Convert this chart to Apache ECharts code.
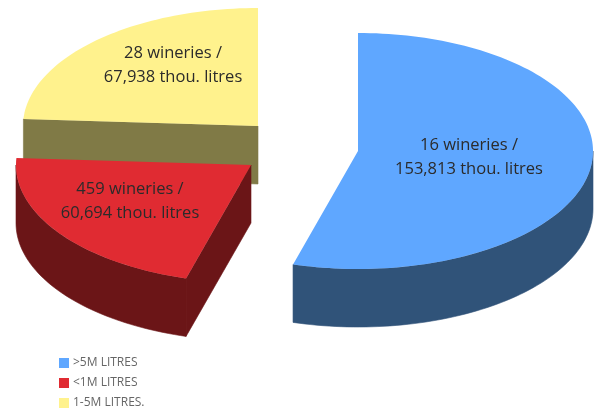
<!DOCTYPE html>
<html>
<head>
<meta charset="utf-8">
<style>
  html, body { margin: 0; padding: 0; background: #fff; }
  #chart { width: 601px; height: 410px; }
</style>
<script src="https://cdn.jsdelivr.net/npm/echarts@6/dist/echarts.min.js"></script>
</head>
<body>
<div id="chart"></div>
<script>
// data
const categories = [">5M LITRES", "<1M LITRES", "1-5M LITRES."];
const litres = [153813, 60694, 67938];
const wineries = [16, 459, 28];

const topColors = ["#5fa7ff", "#e02b32", "#fff28d"];
const sideColors = ["#305379", "#6b1517", "#807a46"];

// where each slice sits once pulled apart, and where its text goes
const apexes = [[358, 151], [251, 165], [258, 126]];
const labelCentres = [[469, 157], [130, 201], [173, 65]];
const radiusX = 235;
const radiusY = 118;
const depth = 58;

const total = litres.reduce((a, b) => a + b, 0);

function fmt(n) {
  return String(n).replace(/\B(?=(\d{3})+$)/g, ",");
}

function rimPoint(apex, deg, down) {
  const r = (deg * Math.PI) / 180;
  return [
    apex[0] + radiusX * Math.sin(r),
    apex[1] - radiusY * Math.cos(r) + (down || 0)
  ];
}

function arcPoints(apex, from, to, down) {
  const pts = [];
  const steps = Math.max(1, Math.ceil((to - from) / 1.5));
  for (let i = 0; i <= steps; i++) {
    pts.push(rimPoint(apex, from + ((to - from) * i) / steps, down));
  }
  return pts;
}

// thin stroke in the same colour closes the seam between wall pieces
function sideStyle(fill) {
  return { fill: fill, stroke: fill, lineWidth: 0.6 };
}

// radial cut face, apex to rim, pushed down by the slice depth
function cutFace(apex, deg, fill) {
  const rim = rimPoint(apex, deg);
  return {
    type: "polygon",
    shape: {
      points: [apex, rim, [rim[0], rim[1] + depth], [apex[0], apex[1] + depth]]
    },
    style: sideStyle(fill)
  };
}

function renderSlice(index, start, end) {
  return function (params, api) {
    const apex = apexes[index];
    const children = [];
    // a cut face only shows when it turns towards the viewer
    if (Math.sin((start * Math.PI) / 180) < -1e-6) {
      children.push(cutFace(apex, start, sideColors[index]));
    }
    if (Math.sin((end * Math.PI) / 180) > 1e-6) {
      children.push(cutFace(apex, end, sideColors[index]));
    }

    // outer wall only shows on the front half of the ellipse
    const wallFrom = Math.max(start, 90);
    const wallTo = Math.min(end, 270);
    if (wallTo > wallFrom) {
      children.push({
        type: "polygon",
        shape: {
          points: arcPoints(apex, wallFrom, wallTo).concat(
            arcPoints(apex, wallFrom, wallTo, depth).reverse()
          )
        },
        style: sideStyle(sideColors[index])
      });
    }

    children.push({
      type: "polygon",
      shape: { points: [apex].concat(arcPoints(apex, start, end)) },
      style: { fill: topColors[index] }
    });

    children.push({
      type: "text",
      style: {
        x: labelCentres[index][0],
        y: labelCentres[index][1],
        text: wineries[index] + " wineries /\n" + fmt(litres[index]) + " thou. litres",
        align: "center",
        verticalAlign: "middle",
        lineHeight: 24,
        font: '16.5px "Open Sans", sans-serif',
        fill: "#2b2b2b"
      }
    });

    return { type: "group", children: children };
  };
}

// angles run clockwise from 12 o'clock, in data order
const series = [];
let cursor = 0;
litres.forEach(function (v, i) {
  const next = cursor + (v / total) * 360;
  series.push({
    type: "custom",
    name: categories[i],
    coordinateSystem: "none",
    silent: true,
    animation: false,
    itemStyle: { color: topColors[i] },
    data: [[v]],
    renderItem: renderSlice(i, cursor, next)
  });
  cursor = next;
});
// painter's order: yellow at the back, then red, then blue
series[2].z = 1;
series[1].z = 2;
series[0].z = 3;

const chart = echarts.init(document.getElementById("chart"), null, { renderer: "canvas" });
chart.setOption({
  animation: false,
  backgroundColor: "#fff",
  legend: {
    orient: "vertical",
    left: 59,
    top: 356,
    padding: 0,
    itemWidth: 10,
    itemHeight: 10,
    itemGap: 6,
    icon: "rect",
    selectedMode: false,
    data: categories,
    textStyle: {
      color: "#666",
      fontFamily: '"Open Sans", sans-serif',
      fontSize: 12,
      lineHeight: 14,
      padding: [0, 0, 0, -1]
    }
  },
  series: series
});
window.addEventListener("resize", function () {
  chart.resize();
});
</script>
</body>
</html>
